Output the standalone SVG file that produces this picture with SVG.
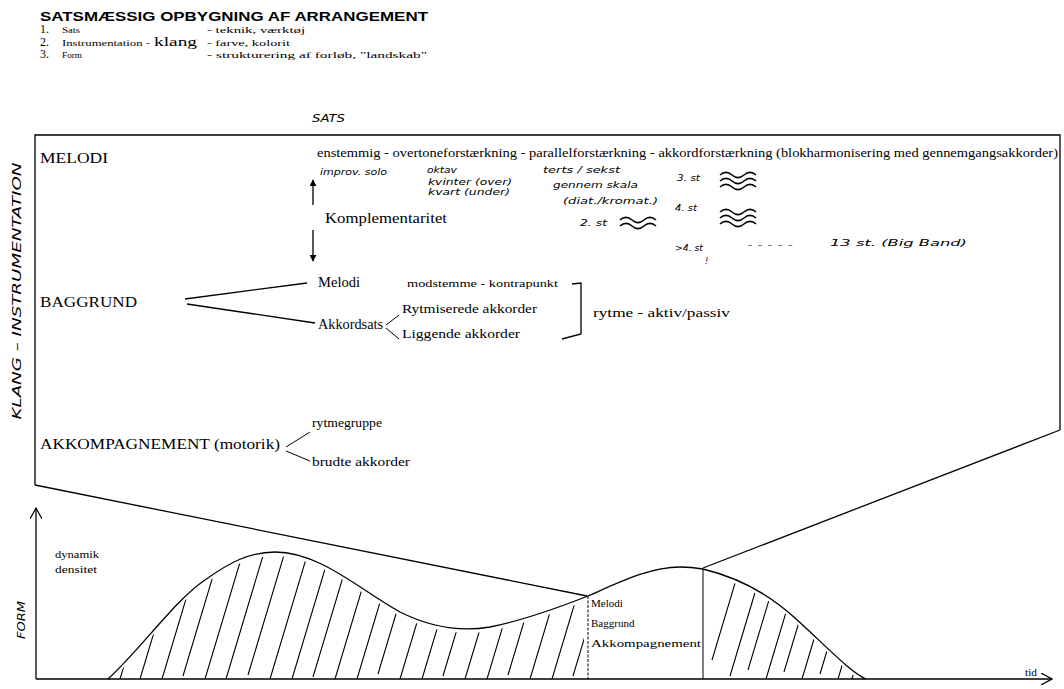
<svg xmlns="http://www.w3.org/2000/svg" width="1064" height="689" viewBox="0 0 1064 689">
<style>
.serif{font-family:"Liberation Serif","Times New Roman",serif;fill:#000}
.sans{font-family:"Liberation Sans",Arial,sans-serif;fill:#000}
.hand{font-family:"DejaVu Sans","Liberation Sans",sans-serif;font-style:italic;fill:#000}
.ln{stroke:#000;stroke-width:1.3;fill:none}
.thin{stroke:#000;stroke-width:1;fill:none}
.hatch{stroke:#000;stroke-width:1.1;fill:none}
</style>
<defs>
<path id="wave" d="M0,0 c4,-3.5 8,-3.5 12,0 s8,3.5 12,0 s8,-3.5 12,0" fill="none" stroke="#000" stroke-width="1.6"/>
<marker id="tri" viewBox="0 0 10 10" refX="9" refY="5" markerWidth="7" markerHeight="7" orient="auto" markerUnits="userSpaceOnUse">
<path d="M0,0 L10,5 L0,10 Z" fill="#000"/>
</marker>
<marker id="open" viewBox="0 0 12 12" refX="11" refY="6" markerWidth="12" markerHeight="12" orient="auto" markerUnits="userSpaceOnUse">
<path d="M0,0 L11,6 L0,12" fill="none" stroke="#000" stroke-width="1.2"/>
</marker>
<clipPath id="under">
<path d="M108,683 C140,654 175,604 205,584 C230,566 250,556 275,556 C320,556 360,594 400,616 C430,631 460,636 490,631 C525,624 560,611 588,600 C620,586 650,571 680,571 C690,571 697,572 703,573 C740,582 770,599 795,622 C825,649 850,676 866,683 Z"/>
</clipPath>
<clipPath id="leftR"><rect x="100" y="500" width="484" height="180"/></clipPath>
<clipPath id="rightR"><rect x="707" y="500" width="170" height="180"/></clipPath>
</defs>

<g id="header">
<text class="sans" x="40" y="21" font-size="12.5" font-weight="bold" textLength="388" lengthAdjust="spacingAndGlyphs">SATSMÆSSIG OPBYGNING AF ARRANGEMENT</text>
<text class="serif" x="40" y="33" font-size="12">1.</text>
<text class="serif" x="62" y="33" font-size="9" textLength="18" lengthAdjust="spacingAndGlyphs">Sats</text>
<text class="serif" x="207" y="33" font-size="9" textLength="98" lengthAdjust="spacingAndGlyphs">-  teknik, værktøj</text>
<text class="serif" x="40" y="46" font-size="12">2.</text>
<text class="serif" x="62" y="46" font-size="9" textLength="88" lengthAdjust="spacingAndGlyphs">Instrumentation -</text>
<text class="serif" x="154" y="46" font-size="12" textLength="43" lengthAdjust="spacingAndGlyphs">klang</text>
<text class="serif" x="207" y="46" font-size="9" textLength="83" lengthAdjust="spacingAndGlyphs">-  farve, kolorit</text>
<text class="serif" x="40" y="58" font-size="12">3.</text>
<text class="serif" x="62" y="58" font-size="9" textLength="20" lengthAdjust="spacingAndGlyphs">Form</text>
<text class="serif" x="207" y="58" font-size="9" textLength="220" lengthAdjust="spacingAndGlyphs">-  strukturering af forløb, "landskab"</text>
</g>

<g id="frame">
<text class="hand" x="312" y="122" font-size="10" textLength="33" lengthAdjust="spacingAndGlyphs">SATS</text>
<path class="ln" d="M35,485 L35,135 L1060,135 L1060,430"/>
<path class="ln" d="M35,485 L587,596"/>
<path class="ln" d="M1060,430 L703,568"/>
<text class="hand" transform="translate(21,291) rotate(-90)" text-anchor="middle" font-size="12" textLength="257" lengthAdjust="spacingAndGlyphs">KLANG – INSTRUMENTATION</text>
</g>

<g id="melodi">
<text class="serif" x="40" y="163" font-size="14" textLength="68" lengthAdjust="spacingAndGlyphs">MELODI</text>
<text class="serif" x="317" y="157" font-size="13" textLength="741" lengthAdjust="spacingAndGlyphs">enstemmig  -  overtoneforstærkning - parallelforstærkning - akkordforstærkning (blokharmonisering med gennemgangsakkorder)</text>
<text class="hand" x="320" y="175" font-size="8" textLength="67" lengthAdjust="spacingAndGlyphs">improv. solo</text>
<text class="hand" x="427" y="173" font-size="8" textLength="30" lengthAdjust="spacingAndGlyphs">oktav</text>
<text class="hand" x="428" y="185" font-size="8" textLength="84" lengthAdjust="spacingAndGlyphs">kvinter (over)</text>
<text class="hand" x="428" y="195" font-size="8" textLength="82" lengthAdjust="spacingAndGlyphs">kvart (under)</text>
<text class="hand" x="543" y="173" font-size="8" textLength="77" lengthAdjust="spacingAndGlyphs">terts / sekst</text>
<text class="hand" x="553" y="188" font-size="8" textLength="85" lengthAdjust="spacingAndGlyphs">gennem skala</text>
<text class="hand" x="563" y="204" font-size="9" textLength="95" lengthAdjust="spacingAndGlyphs">(diat./kromat.)</text>
<text class="hand" x="580" y="226" font-size="9" textLength="27" lengthAdjust="spacingAndGlyphs">2. st</text>
<use href="#wave" x="620" y="220"/>
<use href="#wave" x="620" y="226"/>
<text class="hand" x="677" y="181" font-size="9" textLength="23" lengthAdjust="spacingAndGlyphs">3. st</text>
<use href="#wave" x="720" y="175"/>
<use href="#wave" x="720" y="181"/>
<use href="#wave" x="720" y="187"/>
<text class="hand" x="675" y="211" font-size="9" textLength="22" lengthAdjust="spacingAndGlyphs">4. st</text>
<use href="#wave" x="720" y="212"/>
<use href="#wave" x="720" y="218"/>
<use href="#wave" x="720" y="224"/>
<text class="hand" x="675" y="251" font-size="9" textLength="28" lengthAdjust="spacingAndGlyphs">&gt;4. st</text>
<text class="hand" x="705" y="264" font-size="8">!</text>
<text class="hand" x="747" y="248" font-size="9" textLength="46" lengthAdjust="spacingAndGlyphs">- - - - -</text>
<text class="hand" x="830" y="246" font-size="9" textLength="137" lengthAdjust="spacingAndGlyphs">13  st. (Big Band)</text>
<text class="serif" x="325" y="223" font-size="14" textLength="122" lengthAdjust="spacingAndGlyphs">Komplementaritet</text>
</g>

<g id="baggrund">
<text class="serif" x="40" y="307" font-size="14" textLength="97" lengthAdjust="spacingAndGlyphs">BAGGRUND</text>
<text class="serif" x="318" y="287" font-size="14" textLength="42" lengthAdjust="spacingAndGlyphs">Melodi</text>
<text class="serif" x="407" y="287" font-size="11" textLength="151" lengthAdjust="spacingAndGlyphs">modstemme - kontrapunkt</text>
<text class="serif" x="318" y="329" font-size="14" textLength="65" lengthAdjust="spacingAndGlyphs">Akkordsats</text>
<text class="serif" x="402" y="313" font-size="12" textLength="135" lengthAdjust="spacingAndGlyphs">Rytmiserede akkorder</text>
<text class="serif" x="402" y="338" font-size="12" textLength="118" lengthAdjust="spacingAndGlyphs">Liggende akkorder</text>
<text class="serif" x="593" y="317" font-size="13" textLength="137" lengthAdjust="spacingAndGlyphs">rytme - aktiv/passiv</text>
</g>

<g id="akkompagnement">
<text class="serif" x="40" y="449" font-size="14" textLength="240" lengthAdjust="spacingAndGlyphs">AKKOMPAGNEMENT (motorik)</text>
<text class="serif" x="312" y="427" font-size="13" textLength="70" lengthAdjust="spacingAndGlyphs">rytmegruppe</text>
<text class="serif" x="312" y="466" font-size="13" textLength="98" lengthAdjust="spacingAndGlyphs">brudte akkorder</text>
</g>

<g id="connectors">
<path class="ln" d="M313,205 L313,180" marker-end="url(#tri)"/>
<path class="ln" d="M313,230 L313,261" marker-end="url(#tri)"/>
<path class="ln" d="M185,299 L307,283"/>
<path class="ln" d="M187,304 L315,323"/>
<path class="thin" d="M386,325 L399,315"/>
<path class="thin" d="M386,328 L399,339"/>
<path class="ln" d="M572,284 L581,283 L581,334 L562,339"/>
<path class="thin" d="M286,447 L310,432"/>
<path class="thin" d="M286,451 L310,461"/>
</g>

<g id="form">
<path class="ln" d="M36,679 L36,508" marker-end="url(#open)"/>
<path class="ln" d="M36,679 L1052,679" marker-end="url(#open)"/>
<text class="serif" x="1025" y="676" font-size="10" textLength="12" lengthAdjust="spacingAndGlyphs">tid</text>
<text class="serif" x="55" y="558" font-size="10" textLength="44" lengthAdjust="spacingAndGlyphs">dynamik</text>
<text class="serif" x="55" y="573" font-size="10" textLength="42" lengthAdjust="spacingAndGlyphs">densitet</text>
<text class="hand" transform="translate(25,620) rotate(-90)" text-anchor="middle" font-size="11" textLength="38" lengthAdjust="spacingAndGlyphs">FORM</text>
<path class="ln" d="M108,679 C140,650 175,600 205,580 C230,562 250,552 275,552 C320,552 360,590 400,612 C430,627 460,632 490,627 C525,620 560,607 588,596 C620,582 650,567 680,567 C690,567 697,568 703,569 C740,578 770,595 795,618 C825,645 850,672 866,679"/>
<path class="thin" d="M588,596 L588,679" stroke-dasharray="3,1.5"/>
<path class="thin" d="M703,569 L703,679"/>
<text class="serif" x="591" y="607" font-size="11">Melodi</text>
<text class="serif" x="591" y="627" font-size="11">Baggrund</text>
<text class="serif" x="591" y="647" font-size="11" textLength="110" lengthAdjust="spacingAndGlyphs">Akkompagnement</text>
<g clip-path="url(#under)">
<g clip-path="url(#leftR)">
<path class="hatch" d="M120,679 l45,-150 M140,679 l45,-150 M162,679 l45,-150 M183,676 l45,-150 M205,679 l45,-150 M226,679 l45,-150 M248,675 l45,-150 M270,679 l45,-150 M292,679 l45,-150 M313,677 l45,-150 M335,679 l45,-150 M357,679 l45,-150 M378,674 l45,-150 M400,679 l45,-150 M422,679 l45,-150 M443,676 l45,-150 M465,679 l45,-150 M487,679 l45,-150 M508,675 l45,-150 M530,679 l45,-150 M552,679 l45,-150 M573,676 l45,-150"/>
</g>
<g clip-path="url(#rightR)">
<path class="hatch" d="M712,660 l30,-100 M730,676 l30,-100 M748,670 l30,-100 M766,679 l30,-100 M784,672 l30,-100 M802,679 l30,-100 M820,674 l30,-100 M838,679 l30,-100 M852,679 l30,-100"/>
</g>
</g>
</g>
</svg>
